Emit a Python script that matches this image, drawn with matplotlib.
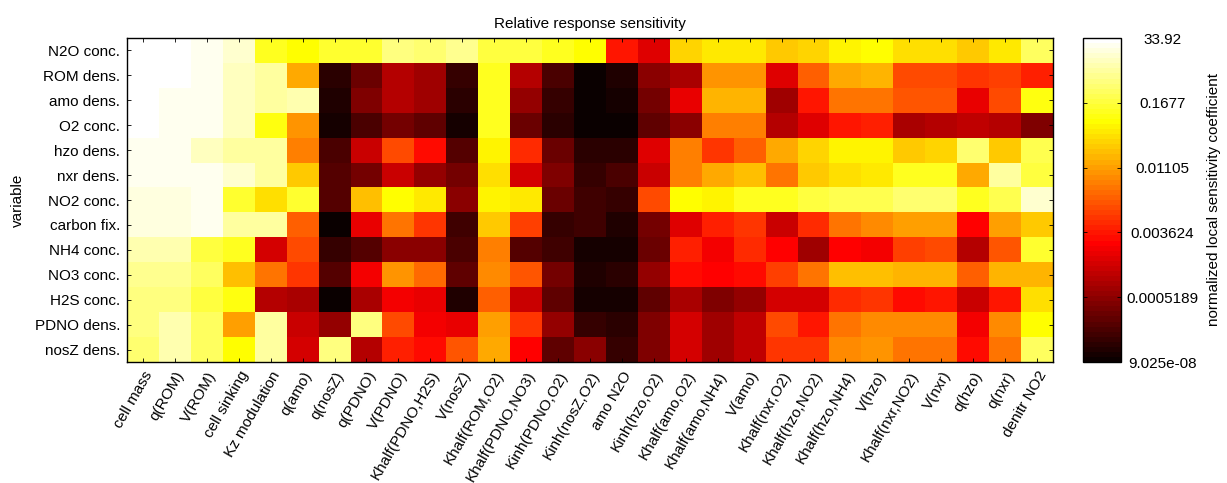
import numpy as np
import matplotlib
matplotlib.use("Agg")
import matplotlib.pyplot as plt
from matplotlib.colors import FuncNorm

plt.rcParams['font.family'] = ['Liberation Sans', 'DejaVu Sans']

parameters = ["cell mass", "q(ROM)", "V(ROM)", "cell sinking", "Kz modulation", "q(amo)",
              "q(nosZ)", "q(PDNO)", "V(PDNO)", "Khalf(PDNO,H2S)", "V(nosZ)", "Khalf(ROM,O2)",
              "Khalf(PDNO,NO3)", "Kinh(PDNO,O2)", "Kinh(nosZ,O2)", "amo N2O", "Kinh(hzo,O2)",
              "Khalf(amo,O2)", "Khalf(amo,NH4)", "V(amo)", "Khalf(nxr,O2)", "Khalf(hzo,NO2)",
              "Khalf(hzo,NH4)", "V(hzo)", "Khalf(nxr,NO2)", "V(nxr)", "q(hzo)", "q(nxr)",
              "denitr NO2"]

variables = ["N2O conc.", "ROM dens.", "amo dens.", "O2 conc.", "hzo dens.", "nxr dens.",
             "NO2 conc.", "carbon fix.", "NH4 conc.", "NO3 conc.", "H2S conc.", "PDNO dens.",
             "nosZ dens."]

n2o_conc = [33.92, 30, 18, 7.9, 0.125, 0.08, 0.155, 0.155, 1.2, 0.77, 1.8, 0.22, 0.22, 0.125, 0.08,
            3.7e-3, 1.66e-3, 3.1e-2, 5.0e-2, 5.0e-2, 2.9e-2, 3.4e-2, 5.9e-2, 8e-2, 4.3e-2, 4.3e-2,
            2.9e-2, 5.0e-2, 0.5]
rom_dens = [33, 32, 18, 6.3, 2.7, 1.3e-2, 1.2e-6, 6.5e-5, 9.6e-4, 6.9e-4, 1.8e-6, 0.115, 9.6e-4,
            6.6e-6, 1.5e-7, 4.5e-7, 5e-4, 8e-4, 1.03e-2, 1.03e-2, 1.66e-3, 6.6e-3, 1.43e-2, 1.6e-2,
            5.7e-3, 5.7e-3, 4.8e-3, 5.3e-3, 3.9e-3]
amo_dens = [31, 18, 18, 6.3, 2.7, 3.4, 4.5e-7, 1.7e-4, 9.6e-4, 6.9e-4, 1.2e-6, 0.115, 5.9e-4,
            2.4e-6, 1.3e-7, 2.8e-7, 1.5e-4, 1.87e-3, 1.8e-2, 1.8e-2, 6.9e-4, 3.7e-3, 7.6e-3, 7.9e-3,
            6.0e-3, 6.0e-3, 1.9e-3, 5.8e-3, 0.10]
o2_conc = [30, 18, 18, 6.3, 0.10, 1.03e-2, 2.4e-7, 9e-6, 1.5e-4, 3.9e-5, 3.3e-7, 0.115, 4.7e-5,
           9e-7, 9.025e-8, 1.2e-7, 2.4e-5, 3.5e-4, 8.7e-3, 8.7e-3, 9.6e-4, 1.66e-3, 3.7e-3, 3.9e-3,
           8e-4, 9.6e-4, 1.07e-3, 9.6e-4, 2.5e-4]
hzo_dens = [15, 15, 6.3, 2.7, 2.2, 8.7e-3, 9e-6, 1.26e-3, 5.4e-3, 3.2e-3, 1.7e-5, 5.9e-2, 4.2e-3,
            6.5e-5, 1.2e-6, 1.2e-6, 1.66e-3, 8.7e-3, 4.8e-3, 6.6e-3, 1.43e-2, 3.4e-2, 5.9e-2, 5.9e-2,
            2.9e-2, 3.4e-2, 0.77, 2.9e-2, 0.33]
nxr_dens = [15, 15, 18, 7.9, 2.7, 2.9e-2, 1.7e-5, 1.5e-4, 1.26e-3, 5.9e-4, 9e-5, 3.7e-2, 1.44e-3,
            2.5e-4, 2.4e-6, 9e-6, 1.2e-3, 8.7e-3, 1.37e-2, 2.0e-2, 7.6e-3, 2.9e-2, 4.0e-2, 4.8e-2,
            0.115, 0.115, 1.43e-2, 2.7, 0.22]
no2_conc = [12, 12, 18, 0.155, 4.0e-2, 0.133, 1.7e-5, 2.0e-2, 8e-2, 4.8e-2, 5e-4, 5.9e-2, 4.8e-2,
            4.7e-5, 3.2e-6, 1.8e-6, 5.8e-3, 8e-2, 5.9e-2, 0.107, 0.125, 0.165, 0.25, 0.25, 0.77,
            0.77, 0.125, 0.25, 7.9]
carbon_fix = [12, 12, 15, 2.7, 2.7, 6.6e-3, 1.5e-7, 1.87e-3, 7.6e-3, 4.8e-3, 3.2e-6, 2.6e-2,
              5.1e-3, 1.8e-6, 3.2e-6, 4.5e-7, 1.5e-4, 1.66e-3, 3.9e-3, 4.5e-3, 1.26e-3, 4.2e-3,
              7.6e-3, 9.3e-3, 1.17e-2, 1.17e-2, 2.6e-3, 1.17e-2, 2.9e-2]
nh4_conc = [4.2, 4.2, 0.165, 0.125, 1.44e-3, 5.4e-3, 1.8e-6, 1.7e-5, 5e-4, 5e-4, 6.6e-6, 8.7e-3,
            1.3e-5, 4.8e-6, 2.4e-7, 2.4e-7, 6.5e-5, 3.9e-3, 2.24e-3, 4.2e-3, 2.6e-3, 6.9e-4, 2.6e-3,
            2.24e-3, 5.1e-3, 5.4e-3, 9.6e-4, 6.0e-3, 0.133]
no3_conc = [1.8, 1.8, 0.38, 2.0e-2, 7.6e-3, 4.5e-3, 1.7e-5, 2.24e-3, 1.0e-2, 7.2e-3, 3.4e-5,
            9.6e-3, 6.0e-3, 1.5e-4, 4.5e-7, 9e-7, 5.9e-4, 3.2e-3, 2.6e-3, 3.2e-3, 5.1e-3, 7.6e-3,
            2.0e-2, 2.0e-2, 1.6e-2, 1.6e-2, 6.4e-3, 1.6e-2, 1.8e-2]
h2s_conc = [1.2, 1.2, 0.22, 0.10, 9.6e-4, 8e-4, 1.5e-7, 7.4e-4, 2.24e-3, 1.87e-3, 4.5e-7, 6.6e-3,
            1.2e-3, 2.4e-5, 2.4e-7, 2.8e-7, 3.4e-5, 8e-4, 1.7e-4, 5.9e-4, 1.44e-3, 1.44e-3, 4.2e-3,
            4.8e-3, 3.2e-3, 3.7e-3, 1.2e-3, 3.7e-3, 4.0e-2]
pdno_dens = [1.2, 3.4, 0.38, 1.07e-2, 2.7, 1.26e-3, 5.9e-4, 0.89, 5.4e-3, 2.24e-3, 1.87e-3,
             1.17e-2, 4.8e-3, 5.9e-4, 1.8e-6, 9e-7, 2.5e-4, 1.44e-3, 6.9e-4, 1.07e-3, 5.8e-3,
             3.7e-3, 7.6e-3, 9.1e-3, 9.1e-3, 9.1e-3, 2.1e-3, 9.3e-3, 8e-2]
nosz_dens = [0.77, 3.4, 0.38, 8e-2, 2.7, 1.44e-3, 1.2, 9.6e-4, 3.9e-3, 3.2e-3, 6.0e-3, 1.43e-2,
             2.6e-3, 2.4e-5, 5e-4, 2.4e-6, 2.5e-4, 1.44e-3, 6.9e-4, 1.07e-3, 4.8e-3, 4.5e-3,
             9.3e-3, 1.0e-2, 7.6e-3, 7.6e-3, 3.2e-3, 7.9e-3, 0.5]

cbar_ticks = [9.025e-08, 0.0005189, 0.003624, 0.01105, 0.1677, 33.92]
cbar_ticklabels = ["9.025e-08", "0.0005189", "0.003624", "0.01105", "0.1677", "33.92"]

data = np.array([n2o_conc, rom_dens, amo_dens, o2_conc, hzo_dens, nxr_dens, no2_conc,
                 carbon_fix, nh4_conc, no3_conc, h2s_conc, pdno_dens, nosz_dens])

# colour scale: ticks equally spaced along the bar (piecewise log between tick values)
log_anchors = np.log10(cbar_ticks)
pos_anchors = np.linspace(0, 1, len(cbar_ticks))


def fwd(x):
    x = np.asarray(x, dtype=float)
    return np.interp(np.log10(np.clip(x, 1e-300, None)), log_anchors, pos_anchors)


def inv(y):
    y = np.asarray(y, dtype=float)
    return 10 ** np.interp(y, pos_anchors, log_anchors)


norm = FuncNorm((fwd, inv), vmin=cbar_ticks[0], vmax=cbar_ticks[-1])
cmap = plt.get_cmap('hot', 64)

FS = 11
W, H = 1227, 483
fig = plt.figure(figsize=(W / 100, H / 100), dpi=100)
ax = fig.add_axes([127 / W, 1 - 362 / H, (1053 - 127) / W, (362 - 38) / H])
cax = fig.add_axes([1083 / W, 1 - 362 / H, (1121 - 1083) / W, (362 - 38) / H])

im = ax.imshow(data, cmap=cmap, norm=norm, aspect='auto', interpolation='nearest')

ax.set_xticks(np.arange(len(parameters)))
ax.set_xticklabels(parameters, rotation=60, ha='right', va='top', rotation_mode='anchor',
                   fontsize=FS)
ax.set_yticks(np.arange(len(variables)))
ax.set_yticklabels(variables, fontsize=FS)
ax.tick_params(direction='in', length=3, width=0.6, top=True, right=True, pad=5)
for s in ax.spines.values():
    s.set_linewidth(1.0)
ax.set_ylabel("variable", fontsize=FS, labelpad=7)
ax.set_title("Relative response sensitivity", fontsize=FS, pad=7)

cb = fig.colorbar(im, cax=cax)
cb.set_ticks(cbar_ticks)
cb.set_ticklabels(cbar_ticklabels)
cb.ax.tick_params(direction='in', length=3, width=0.6, labelsize=FS, left=True, right=True,
                  pad=30)
for lab in cb.ax.get_yticklabels():
    lab.set_horizontalalignment('center')
cb.ax.minorticks_off()
cb.outline.set_linewidth(1.0)
cb.set_label("normalized local sensitivity coefficient", fontsize=FS, labelpad=6)

fig.savefig("out.png", dpi=100)
